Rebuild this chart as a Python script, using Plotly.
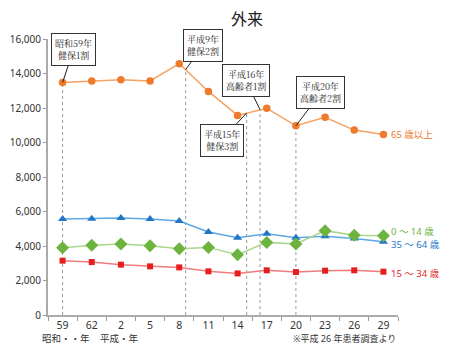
import plotly.graph_objects as go

categories = ["59", "62", "2", "5", "8", "11", "14", "17", "20", "23", "26", "29"]
age_65_plus = [13480, 13570, 13640, 13570, 14570, 12960, 11570, 11980, 10970, 11460, 10720, 10470]
age_35_64 = [5570, 5580, 5620, 5570, 5450, 4810, 4480, 4710, 4480, 4560, 4440, 4250]
age_0_14 = [3900, 4040, 4120, 4020, 3840, 3920, 3500, 4210, 4120, 4890, 4620, 4600]
age_15_34 = [3150, 3070, 2920, 2820, 2760, 2530, 2410, 2590, 2490, 2570, 2590, 2510]

series_names = ["65 歳以上", "35 ～ 64 歳", "0 ～ 14 歳", "15 ～ 34 歳"]
label_y = [10470, 4080, 4850, 2435]

# policy events: (x position in category index, y of tip, text, box offset x, box offset y)
events_x = [0, 4.22, 6.31, 6.77, 8.0]
events_y = [13480, 14220, 11710, 11900, 10970]
events_text = ["昭和59年<br>健保1割", "平成9年<br>健保2割", "平成15年<br>健保3割", "平成16年<br>高齢者1割", "平成20年<br>高齢者2割"]
events_ax = [11, 17, -25, -14, 25]
events_ay = [-33, -24, 27, -29, -33]

FONT = "Noto Sans, Noto Sans CJK JP"
styles = [
    dict(line="#F5A262", marker="#EF7A2C", symbol="circle", size=7.5),
    dict(line="#5EA6E4", marker="#1F77C6", symbol="triangle-up", size=8),
    dict(line="#A9D68A", marker="#6CB43E", symbol="diamond", size=10),
    dict(line="#F07C7C", marker="#E51E1E", symbol="square", size=6),
]
data = [age_65_plus, age_35_64, age_0_14, age_15_34]

fig = go.Figure()
for name, vals, st in zip(series_names, data, styles):
    fig.add_trace(go.Scatter(
        x=categories, y=vals, mode="lines+markers", name=name,
        line=dict(color=st["line"], width=1.5),
        marker=dict(color=st["marker"], symbol=st["symbol"], size=st["size"]),
        showlegend=False, cliponaxis=False,
    ))

shapes = []
for ex, ey in zip(events_x, events_y):
    shapes.append(dict(type="line", xref="x", yref="y", x0=ex, x1=ex, y0=0, y1=ey,
                       line=dict(color="#9a9a9a", width=1, dash="dot"), layer="below"))

annotations = []
for ex, ey, txt, ax, ay in zip(events_x, events_y, events_text, events_ax, events_ay):
    annotations.append(dict(
        x=ex, y=ey, xref="x", yref="y", text=txt, showarrow=True,
        arrowhead=0, arrowwidth=1, arrowcolor="#222", ax=ax, ay=ay,
        bgcolor="white", bordercolor="#333", borderwidth=1, borderpad=3,
        font=dict(family="Noto Serif CJK JP, Noto Sans CJK JP", size=9, color="#222"),
    ))

for name, ly, st in zip(series_names, label_y, styles):
    annotations.append(dict(
        x=11, y=ly, xref="x", yref="y", text=name, showarrow=False,
        xanchor="left", xshift=6, font=dict(family=FONT, size=9.5, color=st["marker"]),
    ))

annotations += [
    dict(x=(239 - 40) / 350, y=1.0 + (31 - 11) / 276, xref="paper", yref="paper", text="外来",
         showarrow=False, xanchor="center", yanchor="middle",
         font=dict(family=FONT, size=16, color="#222")),
    dict(x=-0.023, y=-0.115, xref="paper", yref="paper", text="昭和・・年", showarrow=False,
         xanchor="left", font=dict(family=FONT, size=9.5, color="#333")),
    dict(x=0.142, y=-0.115, xref="paper", yref="paper", text="平成・年", showarrow=False,
         xanchor="left", font=dict(family=FONT, size=9.5, color="#333")),
    dict(x=1.0, y=-0.115, xref="paper", yref="paper", text="※平成 26 年患者調査より", showarrow=False,
         xanchor="right", font=dict(family=FONT, size=9, color="#333")),
]

fig.update_layout(
    width=442, height=355,
    margin=dict(l=40, r=52, t=31, b=48),
    paper_bgcolor="white", plot_bgcolor="white",
    font=dict(family=FONT, size=10, color="#333"),
    shapes=shapes, annotations=annotations,
    xaxis=dict(type="category", tickson="boundaries", ticks="outside", ticklen=4,
               tickcolor="#999", showline=True, linecolor="#aaa", linewidth=1.5,
               showgrid=False, zeroline=False, range=[-0.5, 11.5], automargin=False,
               tickfont=dict(size=10.5, color="#333")),
    yaxis=dict(range=[0, 16000], tickvals=list(range(0, 16001, 2000)), tickformat=",",
               ticks="outside", ticklen=3, tickcolor="#999", showline=True,
               linecolor="#aaa", linewidth=2, showgrid=False, zeroline=False,
               automargin=False, tickfont=dict(size=10, color="#333")),
)

fig.write_html("out.html")
